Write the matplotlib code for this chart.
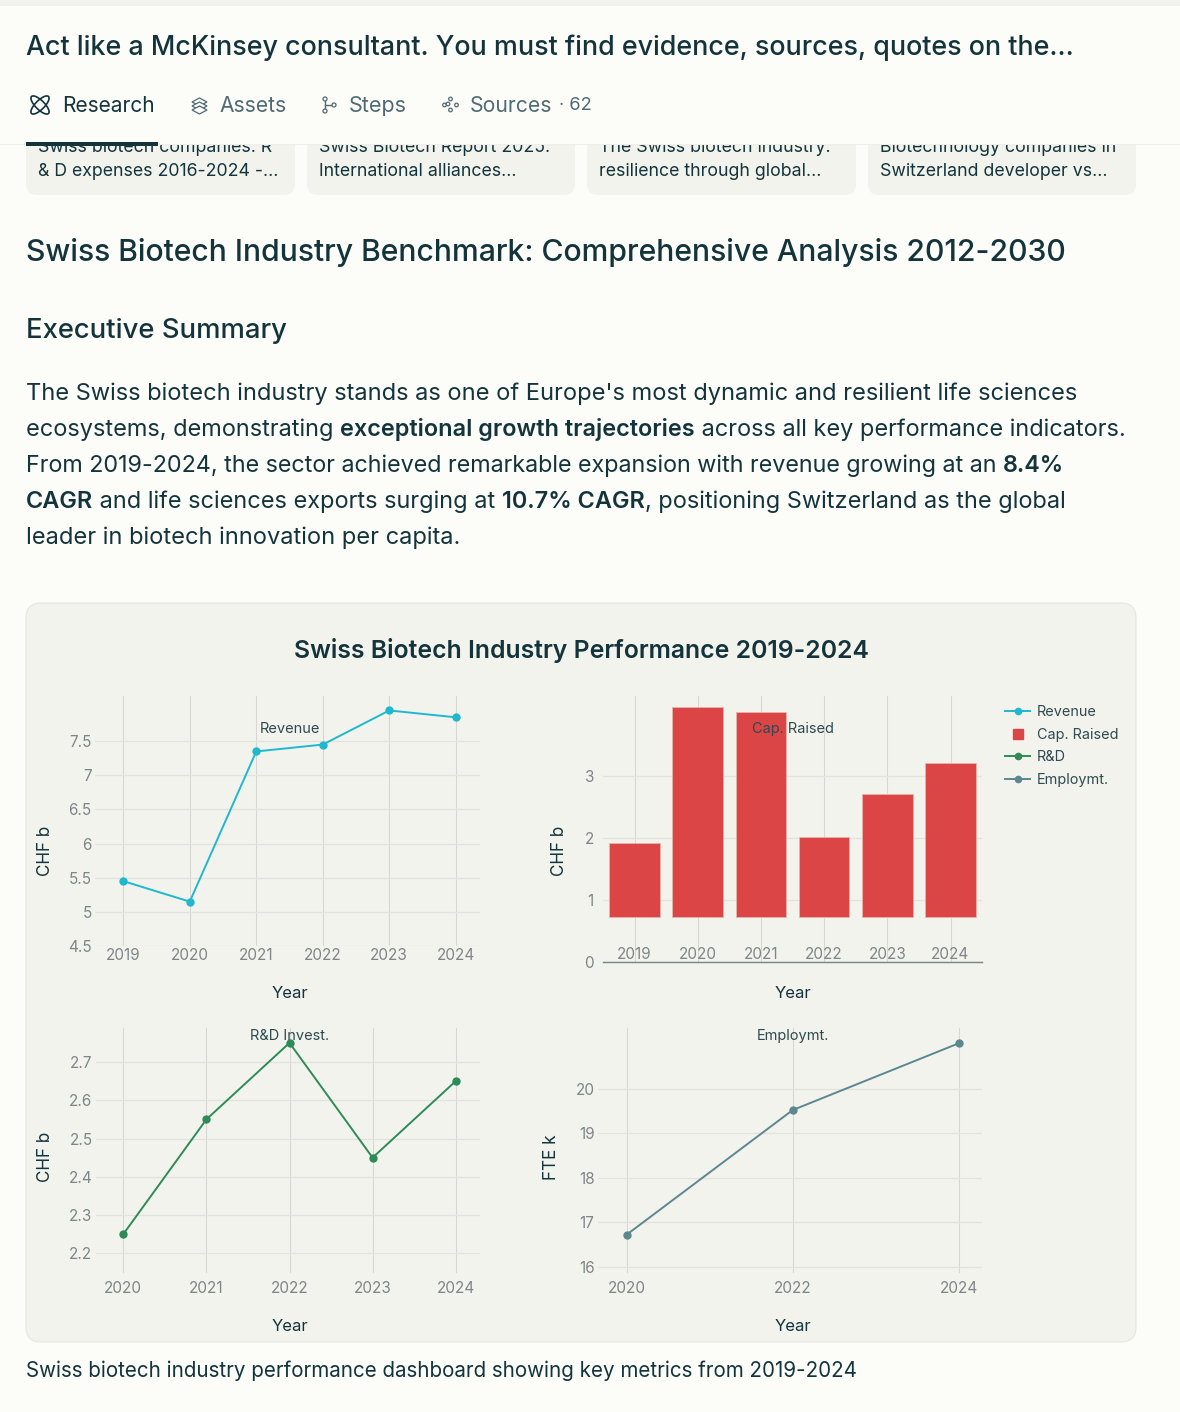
import matplotlib
matplotlib.use("Agg")
import matplotlib.pyplot as plt
from matplotlib.lines import Line2D
from matplotlib.patches import Circle, Ellipse, FancyBboxPatch, Polygon, Rectangle

# ---- chart values ----
rev_years = [2019, 2020, 2021, 2022, 2023, 2024]
revenue = [5.45, 5.15, 7.35, 7.45, 7.95, 7.85]
rev_ticks = [4.5, 5, 5.5, 6, 6.5, 7, 7.5]
rev_tick_labels = ["4.5", "5", "5.5", "6", "6.5", "7", "7.5"]

cap_years = [2019, 2020, 2021, 2022, 2023, 2024]
cap_raised = [1.91, 4.11, 4.02, 2.01, 2.71, 3.21]
cap_base = 0.72  # the bars float above zero in the original
cap_ticks = [0, 1, 2, 3]

rd_years = [2020, 2021, 2022, 2023, 2024]
rd_invest = [2.25, 2.55, 2.75, 2.45, 2.65]
rd_ticks = [2.2, 2.3, 2.4, 2.5, 2.6, 2.7]

emp_years = [2020, 2022, 2024]
employment = [16.72, 19.52, 21.02]
emp_ticks = [16, 17, 18, 19, 20]

legend_labels = ["Revenue", "Cap. Raised", "R&D", "Employmt."]

# ---- page text ----
card_lines = [
    ["Swiss biotech companies: R", "& D expenses 2016-2024 -..."],
    ["Swiss Biotech Report 2025:", "International alliances..."],
    ["The Swiss biotech industry:", "resilience through global..."],
    ["Biotechnology companies in", "Switzerland developer vs..."],
]
body_lines = [
    [("The Swiss biotech industry stands as one of Europe's most dynamic and resilient life sciences", False)],
    [("ecosystems, demonstrating ", False), ("exceptional growth trajectories", True),
     (" across all key performance indicators.", False)],
    [("From 2019-2024, the sector achieved remarkable expansion with revenue growing at an ", False),
     ("8.4%", True)],
    [("CAGR", True), (" and life sciences exports surging at ", False), ("10.7% CAGR", True),
     (", positioning Switzerland as the global", False)],
    [("leader in biotech innovation per capita.", False)],
]
body_sizes = [17.0, 16.92, 16.81, 16.93, 17.0]

# ---- colours ----
BG = "#fcfcf9"
PANEL = "#f3f3ee"
INK = "#13343b"
TAB = "#4f6a72"
TICK = "#7f8588"
LABEL = "#2d4a50"
GRID_H = "#e3e2de"
GRID_V = "#d6d6d2"
C_REV = "#1fb8cd"
C_CAP = "#db4545"
C_RD = "#2e8b57"
C_EMP = "#5d878f"

W, H = 1180, 1412
plt.rcParams["font.family"] = ["Inter", "DejaVu Sans"]
fig = plt.figure(figsize=(W / 100, H / 100), dpi=100, facecolor=BG)

# full page axes in pixel coordinates, for everything around the charts
page = fig.add_axes([0, 0, 1, 1], zorder=0)
page.set_xlim(0, W)
page.set_ylim(H, 0)
page.axis("off")
top = fig.add_axes([0, 0, 1, 1], zorder=5)
top.set_xlim(0, W)
top.set_ylim(H, 0)
top.axis("off")
top.patch.set_alpha(0)

renderer = fig.canvas.get_renderer()


def write(ax, x, y, s, width=None, size=12, color=INK, weight="normal", **kw):
    t = ax.text(x, y + 1.8, s, fontsize=size, color=color, weight=weight, va="center", **kw)
    if width:  # scale the font so the line has the width it has in the picture
        w = t.get_window_extent(renderer).width
        t.set_fontsize(size * width / w)
    return t


def box(x0, y0, x1, y1, r, fc, ec="none", z=1):
    page.add_patch(FancyBboxPatch((x0 + r, y0 + r), x1 - x0 - 2 * r, y1 - y0 - 2 * r,
                                  boxstyle=f"round,pad={r},rounding_size={r}",
                                  fc=fc, ec=ec, lw=0.8, zorder=z))


# cards, partly hidden by the header
cards_x = [(26, 295), (307, 575), (587, 856), (868, 1136)]
for (x0, x1), lines in zip(cards_x, card_lines):
    box(x0, 120, x1, 195, 11, PANEL)
    write(page, x0 + 12, 146, lines[0], size=12.75, zorder=2)
    write(page, x0 + 12, 170, lines[1], size=12.75, zorder=2)

# header
page.add_patch(Rectangle((0, 0), W, 144, fc=BG, ec="none", zorder=3))
page.add_patch(Rectangle((0, 0), W, 6, fc=PANEL, ec="none", zorder=4))
page.plot([0, W], [144, 144], color="#eeeeea", lw=0.8, zorder=4)
page.add_patch(Rectangle((26, 142), 132, 4, fc=INK, ec="none", zorder=5))
write(page, 26, 46, "Act like a McKinsey consultant. You must find evidence, sources, quotes on the...",
      width=1046, size=19, weight="medium", zorder=5)
write(page, 62, 104, "Research", width=93, size=15, zorder=5)
write(page, 219, 104, "Assets", width=67, size=15, color=TAB, zorder=5)
write(page, 349, 104, "Steps", width=58, size=15, color=TAB, zorder=5)
write(page, 470, 104, "Sources", width=82, size=15, color=TAB, zorder=5)
write(page, 559, 104, "· 62", width=33, size=12, color=TAB, zorder=5)

# tab icons
for angle in (45, -45):
    page.add_patch(Ellipse((40, 105), 24, 9, angle=angle, fill=False, ec=INK, lw=1.2, zorder=5))
for dy in (0, 4, 8):
    page.add_patch(Polygon([(192, 102 + dy), (199.5, 98 + dy), (207, 102 + dy), (199.5, 106 + dy)],
                           fc=BG, ec=TAB, lw=0.9, zorder=5))
page.plot([325, 325], [100, 110], color=TAB, lw=1, zorder=5)
page.plot([325, 332], [105, 105], color=TAB, lw=1, zorder=5)
for cx, cy in [(325, 99), (325, 111), (334, 105)]:
    page.add_patch(Circle((cx, cy), 2, fc=BG, ec=TAB, lw=0.9, zorder=6))
for cx, cy in [(444.5, 105), (456.5, 105), (450.5, 99), (450.5, 110), (448, 104)]:
    page.add_patch(Circle((cx, cy), 1.8, fc=BG, ec=TAB, lw=0.9, zorder=6))

# headings and body
write(page, 26, 251, "Swiss Biotech Industry Benchmark: Comprehensive Analysis 2012-2030",
      width=1041, size=20, weight="medium", zorder=2)
write(page, 26, 329, "Executive Summary", width=260, size=18, weight="medium", zorder=2)

for i, runs in enumerate(body_lines):
    x = 26
    for s, bold in runs:
        weight = "semibold" if bold else "normal"
        write(page, x, 392 + 36 * i, s, size=body_sizes[i], weight=weight, zorder=2)
        # measure with trailing spaces kept
        probe = page.text(0, 0, s.replace(" ", "\u00a0"), fontsize=body_sizes[i], weight=weight, alpha=0)
        x += probe.get_window_extent(renderer).width
        probe.remove()

write(page, 26, 1368.5, "Swiss biotech industry performance dashboard showing key metrics from 2019-2024",
      width=833, size=14, zorder=2)

# chart panel
box(26, 603, 1136, 1342, 15, PANEL, ec="#e6e6e1")
write(top, 581.5, 649, "Swiss Biotech Industry Performance 2019-2024", width=575, size=18,
      weight="semibold", ha="center")


def chart_axes(left, right, ytop, ybottom, xcal, ycal):
    """Axes placed by pixels; xcal/ycal are two (value, pixel) pairs fixing the scales."""
    ax = fig.add_axes([left / W, 1 - ybottom / H, (right - left) / W, (ybottom - ytop) / H], zorder=2)
    ax.patch.set_alpha(0)
    sx = (xcal[1][0] - xcal[0][0]) / (xcal[1][1] - xcal[0][1])
    sy = (ycal[1][0] - ycal[0][0]) / (ycal[1][1] - ycal[0][1])
    ax.set_xlim(xcal[0][0] + (left - xcal[0][1]) * sx, xcal[0][0] + (right - xcal[0][1]) * sx)
    ax.set_ylim(ycal[0][0] + (ybottom - ycal[0][1]) * sy, ycal[0][0] + (ytop - ycal[0][1]) * sy)
    for spine in ax.spines.values():
        spine.set_visible(False)
    ax.set_axisbelow(True)
    ax.grid(True, axis="y", color=GRID_H, lw=0.9)
    ax.grid(True, axis="x", color=GRID_V, lw=0.75)
    ax.tick_params(length=0, labelcolor=TICK, labelsize=11)
    return ax


def labels(ax, ylabel, ylabel_x, year_x, year_y, ylabel_y):
    ax.set_xlabel("Year", color=INK, fontsize=12)
    ax.xaxis.set_label_coords(year_x, year_y, transform=page.transData)
    ax.xaxis.label.set_va("center")
    ax.set_ylabel(ylabel, color=INK, fontsize=12.3)
    ax.yaxis.set_label_coords(ylabel_x, ylabel_y, transform=page.transData)
    ax.yaxis.label.set_va("center")


def line_chart(ax, years, values, color):
    ax.plot(years, values, color=color, lw=1.4, marker="o", ms=5, clip_on=False)
    ax.set_xticks(years)


# Revenue
ax1 = chart_axes(95, 480, 696, 946, ((2019, 123.3), (2024, 455.7)), ((5, 912.4), (7.5, 741.3)))
line_chart(ax1, rev_years, revenue, C_REV)
ax1.set_yticks(rev_ticks, rev_tick_labels)
ax1.tick_params(axis="x", pad=1.5)
ax1.tick_params(axis="y", pad=2.5)
labels(ax1, "CHF b", 46, 289.5, 994, 851)
write(top, 290, 727.5, "Revenue", size=10.5, ha="center", color=LABEL)

# Capital raised
ax2 = chart_axes(603, 982, 696, 962, ((2019, 634.5), (2024, 950.5)), ((0, 962), (3, 775.7)))
ax2.bar(cap_years, [v - cap_base for v in cap_raised], bottom=cap_base, width=0.8,
        color=C_CAP, edgecolor="#e9b3ad", linewidth=0.6)
ax2.set_xticks(cap_years)
ax2.set_yticks(cap_ticks)
ax2.spines["bottom"].set_visible(True)
ax2.spines["bottom"].set_color("#7d8285")
ax2.spines["bottom"].set_linewidth(1.0)
ax2.tick_params(axis="x", pad=-11)
ax2.tick_params(axis="y", pad=6.5)
labels(ax2, "CHF b", 560, 792.5, 994, 851)
write(top, 792.5, 727.5, "Cap. Raised", size=10.5, ha="center", color=LABEL)

# R&D
ax3 = chart_axes(96, 480, 1028, 1273, ((2020, 123.3), (2024, 455.7)), ((2.2, 1253.3), (2.7, 1062)))
line_chart(ax3, rd_years, rd_invest, C_RD)
ax3.set_yticks(rd_ticks)
ax3.tick_params(axis="x", pad=6)
ax3.tick_params(axis="y", pad=2.5)
labels(ax3, "CHF b", 46, 289.5, 1326.5, 1157)
write(top, 290, 1034, "R&D Invest.", size=10.5, ha="center", color=LABEL)

# Employment
ax4 = chart_axes(598, 982, 1028, 1273, ((2020, 626.7), (2024, 958.7)), ((16, 1266.7), (20, 1088.7)))
line_chart(ax4, emp_years, employment, C_EMP)
ax4.set_yticks(emp_ticks)
ax4.tick_params(axis="x", pad=6)
ax4.tick_params(axis="y", pad=2.5)
labels(ax4, "FTE k", 552, 792.5, 1326.5, 1157)
write(top, 792.5, 1034, "Employmt.", size=10.5, ha="center", color=LABEL)

# shared legend
handles = [
    Line2D([], [], color=C_REV, lw=1.4, marker="o", ms=4.5),
    Line2D([], [], color=C_CAP, lw=0, marker="s", ms=7.5),
    Line2D([], [], color=C_RD, lw=1.4, marker="o", ms=4.5),
    Line2D([], [], color=C_EMP, lw=1.4, marker="o", ms=4.5),
]
leg = fig.legend(handles, legend_labels, loc="upper left", bbox_to_anchor=(1005 / W, 1 - 705 / H),
                 frameon=False, fontsize=10.4, labelcolor=LABEL, handlelength=1.75, handletextpad=0.45,
                 labelspacing=0.6, borderpad=0, borderaxespad=0)
leg.set_zorder(6)

fig.savefig("out.png", dpi=100, facecolor=BG)
